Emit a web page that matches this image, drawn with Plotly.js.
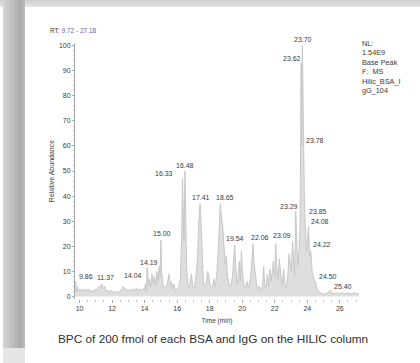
<!DOCTYPE html>
<html>
<head>
<meta charset="utf-8">
<script src="https://cdn.plot.ly/plotly-3.0.1.min.js"></script>
<style>
  html, body { margin: 0; padding: 0; width: 420px; height: 363px; overflow: hidden; background: #ffffff; }
  #frameTop { position: absolute; left: 0; top: 0; width: 420px; height: 7px;
    background: linear-gradient(to bottom, #cfcfcf, #e4e4e4); }
  #frameLeft { position: absolute; left: 3px; top: 0; width: 22px; height: 348px;
    background: linear-gradient(to right, #d4d4d4 0%, #c0c0c0 40%, #a9a9a9 80%, #bdbdbd 100%); }
  #frameLeftLow { position: absolute; left: 3px; top: 348px; width: 22px; height: 15px; background: #e6e6e6; }
  #chart { position: absolute; left: 0; top: 0; width: 420px; height: 363px; }
</style>
</head>
<body>
<div id="frameTop"></div>
<div id="frameLeft"></div>
<div id="frameLeftLow"></div>
<div id="chart"></div>
<script>
// Base peak chromatogram: [retention time (min), relative abundance (%)]
const bpcPoints = [
  [9.72,3],[9.76,6],[9.80,2],[9.86,4],[9.92,2],[10.0,3],[10.1,2],[10.2,3],[10.3,2],[10.4,3],
  [10.5,2],[10.6,3],[10.7,1.5],[10.8,2.5],[10.9,2],[11.0,3],[11.1,2.5],[11.2,4],[11.3,3.5],[11.37,5],
  [11.45,3],[11.55,4],[11.65,2],[11.75,2.5],[11.85,1.5],[11.95,2.5],[12.05,1.5],[12.15,2],[12.3,1.5],[12.45,2],
  [12.6,3],[12.7,4],[12.8,2.5],[12.9,3],[13.0,2],[13.1,3],[13.2,2],[13.3,3],[13.4,2.5],[13.5,3.5],
  [13.6,2],[13.7,3],[13.8,2.5],[13.9,3],[14.0,3],[14.04,5],[14.1,2],[14.15,11.5],[14.19,10],[14.25,4],
  [14.3,7],[14.38,4],[14.45,9],[14.52,5],[14.6,8],[14.68,4],[14.75,10],[14.82,6],[14.9,12],[14.95,8],
  [15.0,22.5],[15.05,10],[15.12,5],[15.2,3],[15.3,4],[15.4,5],[15.5,9],[15.58,4],[15.65,6],[15.72,3],
  [15.8,5],[15.9,2],[16.0,3],[16.1,4],[16.2,7],[16.28,25],[16.33,47],[16.38,30],[16.42,22],[16.48,50],
  [16.53,30],[16.58,12],[16.65,5],[16.72,3],[16.8,6],[16.88,9],[16.95,4],[17.05,3],[17.15,8],[17.25,15],
  [17.33,30],[17.41,37],[17.48,28],[17.55,12],[17.62,5],[17.7,4],[17.8,6],[17.88,10],[17.95,7],[18.05,4],
  [18.15,3],[18.25,7],[18.35,4],[18.45,10],[18.55,22],[18.65,37],[18.72,32],[18.8,28],[18.88,20],[18.95,13],
  [19.02,16],[19.1,8],[19.2,5],[19.3,4],[19.4,8],[19.47,17],[19.54,20.5],[19.6,12],[19.68,5],[19.75,8],
  [19.82,14],[19.88,6],[19.95,18],[20.02,9],[20.1,5],[20.2,3],[20.3,6],[20.38,3],[20.45,5],[20.52,8],
  [20.6,15],[20.66,21],[20.72,14],[20.8,8],[20.88,5],[20.95,3],[21.05,4],[21.15,2],[21.25,4],[21.32,12],
  [21.38,5],[21.45,3],[21.55,9],[21.62,4],[21.7,11],[21.78,6],[21.85,10],[21.92,14],[22.0,8],[22.06,21],
  [22.12,12],[22.2,7],[22.28,15],[22.36,8],[22.45,4],[22.55,11],[22.62,5],[22.7,3],[22.8,8],[22.88,17],
  [22.95,12],[23.02,10],[23.09,22],[23.15,14],[23.22,8],[23.29,34],[23.35,22],[23.42,12],[23.5,18],[23.56,30],
  [23.62,93],[23.65,60],[23.70,100],[23.74,70],[23.78,59],[23.82,40],[23.85,32],[23.9,24],[23.95,18],[24.0,22],
  [24.08,28],[24.14,16],[24.22,18],[24.3,10],[24.38,8],[24.45,6],[24.5,6],[24.6,3],[24.7,2],[24.8,1.5],
  [24.95,1],[25.1,1],[25.25,1.5],[25.4,2.5],[25.5,1.5],[25.65,1],[25.8,1.5],[25.95,1],[26.1,1.5],[26.3,1],
  [26.5,1.5],[26.7,1],[26.9,1.5],[27.18,1]
];

// Peak labels: text, label x (min), label y (%)
const peakLabelText = ["9.86","11.37","14.04","14.19","15.00","16.33","16.48","17.41","18.65","19.54",
  "22.06","23.09","23.29","23.62","23.70","23.78","23.85","24.08","24.22","24.50","25.40"];
const peakLabelX = [10.37,11.6,13.28,14.25,15.07,15.17,16.5,17.49,18.92,19.58,
  21.08,22.47,22.88,23.03,23.74,24.5,24.67,24.77,24.93,25.28,26.2];
const peakLabelY = [8,7.7,8.4,13.7,25,49,52,39.5,39.5,23,
  23.6,24.5,36,95,100,62,34,30,20.6,8,4];

const xTicks = [10,12,14,16,18,20,22,24,26];
const yTicks = [0,10,20,30,40,50,60,70,80,90,100];
const infoLines = ["NL:","1.54E9","Base Peak","F:  MS","Hilic_BSA_I","gG_104"];

const font = "Liberation Sans, Arial, sans-serif";

const trace = {
  x: bpcPoints.map(p => p[0]),
  y: bpcPoints.map(p => p[1]),
  type: "scatter",
  mode: "lines",
  fill: "tozeroy",
  fillcolor: "#dedede",
  line: { color: "#c8c8c8", width: 1 },
  hoverinfo: "skip"
};

const annotations = peakLabelText.map((t, i) => ({
  text: t, x: peakLabelX[i], y: peakLabelY[i], xref: "x", yref: "y",
  yshift: t === "23.70" ? 6 : 0,
  showarrow: false, font: { family: font, size: 7, color: "#3a3a3a" }
}));

annotations.push({
  text: 'RT: <span style="color:#5b63b5">9.72 - 27.18</span>',
  xref: "paper", yref: "paper", x: -0.095, y: 1.05, xanchor: "left", yanchor: "middle",
  showarrow: false, font: { family: font, size: 6.5, color: "#3a3a3a" }
});
annotations.push({
  text: infoLines.join("<br>"),
  xref: "paper", yref: "paper", x: 1.003, y: 1.022, xanchor: "left", yanchor: "top", align: "left",
  showarrow: false, font: { family: font, size: 7.3, color: "#3a3a3a" }
});
annotations.push({
  text: "BPC of 200 fmol of each BSA and IgG on the HILIC column",
  xref: "paper", yref: "paper", x: 0.5, y: -0.147, xanchor: "center", yanchor: "middle",
  xshift: -4, yshift: -2, showarrow: false, font: { family: font, size: 11.8, color: "#2f2f2f" }
});

const layout = {
  width: 420, height: 363,
  margin: { l: 75, r: 61, t: 43, b: 64 },
  paper_bgcolor: "rgba(0,0,0,0)",
  plot_bgcolor: "rgba(0,0,0,0)",
  showlegend: false,
  xaxis: {
    range: [9.72, 27.18], tickvals: xTicks, ticktext: xTicks.map(String),
    showgrid: false, zeroline: false, showline: false,
    ticks: "outside", ticklen: 3, tickcolor: "#aaaaaa",
    tickfont: { family: font, size: 7, color: "#3a3a3a" },
    title: { text: "Time (min)", font: { family: font, size: 6.5, color: "#3a3a3a" }, standoff: 7 },
    minor: { dtick: 0.5, ticks: "outside", ticklen: 1.5, tickcolor: "#c4c4c4" }
  },
  yaxis: {
    range: [-1, 101], tickvals: yTicks, ticktext: yTicks.map(String),
    showgrid: false, zeroline: false, showline: true, linecolor: "#aaaaaa", linewidth: 1,
    ticks: "outside", ticklen: 2, tickcolor: "#aaaaaa",
    tickfont: { family: font, size: 7, color: "#3a3a3a" },
    title: { text: "Relative Abundance", font: { family: font, size: 7, color: "#3a3a3a" }, standoff: 3 },
    minor: { dtick: 2, ticks: "outside", ticklen: 1.5, tickcolor: "#c4c4c4" }
  },
  annotations: annotations
};

Plotly.newPlot("chart", [trace], layout, { displayModeBar: false, staticPlot: true });
</script>
</body>
</html>
